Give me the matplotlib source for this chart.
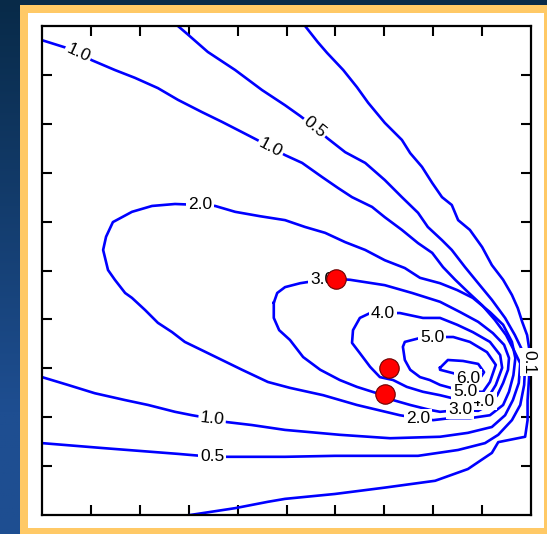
import numpy as np
import matplotlib
matplotlib.use("Agg")
import matplotlib.pyplot as plt
from matplotlib.patches import Rectangle

plt.rcParams['font.family'] = ['Liberation Sans', 'DejaVu Sans']

# Contour polylines (x, y in map units, 0..10 on both axes)
c01 = [(5.38, 10.0), (5.64, 9.67), (5.83, 9.45), (6.16, 9.10), (6.44, 8.75), (6.67, 8.43),
       (7.01, 8.02), (7.36, 7.67), (7.53, 7.40), (7.77, 7.12), (7.98, 6.79), (8.18, 6.50),
       (8.38, 6.34), (8.51, 6.03), (8.75, 5.83), (9.00, 5.48), (9.20, 5.11), (9.43, 4.81),
       (9.61, 4.50), (9.73, 4.23), (9.82, 3.95), (9.92, 3.68), (9.96, 3.42), (9.96, 2.80),
       (9.93, 2.35), (9.93, 1.94), (9.88, 1.60), (9.33, 1.49), (9.20, 1.27), (8.71, 0.94),
       (8.04, 0.70), (7.01, 0.56), (5.99, 0.43), (4.97, 0.33), (4.62, 0.27), (3.95, 0.14),
       (3.03, 0.0)]

c05 = [(2.78, 10.0), (2.99, 9.82), (3.39, 9.47), (3.95, 9.10), (4.50, 8.69), (4.97, 8.38),
       (5.28, 8.16), (5.58, 7.93), (5.83, 7.71), (6.20, 7.42), (6.61, 7.20), (7.01, 6.85),
       (7.36, 6.50), (7.69, 6.18), (7.89, 5.89), (8.18, 5.62), (8.38, 5.42), (8.65, 5.07),
       (8.92, 4.74), (9.20, 4.40), (9.47, 4.03), (9.67, 3.68), (9.82, 3.37), (9.88, 3.07),
       (9.86, 2.66), (9.78, 2.25), (9.61, 1.94), (9.33, 1.64), (9.06, 1.47), (8.51, 1.33),
       (7.69, 1.21), (5.99, 1.21), (4.97, 1.19), (3.78, 1.19), (3.48, 1.19), (2.78, 1.25),
       (1.23, 1.37), (0.0, 1.47)]

c10 = [(0.0, 9.71), (0.51, 9.55), (0.74, 9.45), (1.02, 9.30), (1.49, 9.10), (1.90, 8.94),
       (2.37, 8.73), (2.78, 8.49), (3.27, 8.24), (3.68, 8.04), (4.09, 7.83), (4.40, 7.67),
       (4.68, 7.52), (4.97, 7.36), (5.32, 7.20), (5.73, 6.91), (6.05, 6.69), (6.34, 6.50),
       (6.75, 6.30), (7.01, 6.09), (7.36, 5.83), (7.69, 5.56), (7.98, 5.36), (8.20, 5.07),
       (8.45, 4.81), (8.71, 4.56), (9.00, 4.29), (9.26, 3.99), (9.49, 3.68), (9.65, 3.37),
       (9.78, 3.10), (9.75, 2.70), (9.63, 2.35), (9.47, 2.04), (9.20, 1.80), (8.71, 1.68),
       (8.14, 1.60), (7.12, 1.57), (6.09, 1.64), (4.97, 1.74), (4.29, 1.84), (3.78, 1.90),
       (3.48, 1.97), (3.07, 2.04), (2.72, 2.11), (2.17, 2.25), (1.70, 2.35), (1.08, 2.49),
       (0.53, 2.66), (0.0, 2.82)]

c20 = [(3.23, 6.34), (3.54, 6.32), (3.95, 6.20), (4.46, 6.11), (4.97, 6.03), (5.38, 5.89),
       (5.79, 5.77), (6.20, 5.58), (6.61, 5.42), (7.01, 5.21), (7.42, 5.05), (7.73, 4.85),
       (8.14, 4.74), (8.49, 4.60), (8.81, 4.44), (9.16, 4.15), (9.43, 3.89), (9.61, 3.54),
       (9.68, 3.21), (9.64, 2.86), (9.55, 2.52), (9.43, 2.25), (9.16, 2.04), (8.75, 1.98),
       (8.34, 1.98), (8.00, 1.94), (7.69, 1.98), (7.32, 2.04), (6.44, 2.25), (5.75, 2.45),
       (5.07, 2.60), (4.62, 2.72), (4.09, 2.97), (3.68, 3.17), (3.27, 3.37), (2.92, 3.54),
       (2.66, 3.74), (2.37, 3.93), (2.11, 4.19), (1.84, 4.44), (1.70, 4.54), (1.49, 4.81),
       (1.35, 5.01), (1.25, 5.42), (1.31, 5.69), (1.45, 5.99), (1.84, 6.20), (2.25, 6.32),
       (2.72, 6.36), (3.23, 6.34)]

c30 = [(4.74, 4.34), (4.81, 4.54), (4.97, 4.66), (5.28, 4.74), (5.73, 4.81), (6.01, 4.83),
       (6.30, 4.81), (7.01, 4.70), (7.57, 4.54), (8.14, 4.36), (8.55, 4.15), (8.92, 3.95),
       (9.22, 3.72), (9.45, 3.48), (9.55, 3.21), (9.53, 2.97), (9.43, 2.70), (9.31, 2.45),
       (9.14, 2.25), (8.92, 2.13), (8.55, 2.15), (8.14, 2.11), (7.93, 2.15), (7.53, 2.25),
       (7.18, 2.35), (6.85, 2.49), (6.44, 2.62), (6.09, 2.76), (5.69, 2.97), (5.34, 3.23),
       (5.07, 3.58), (4.85, 3.78), (4.74, 4.03), (4.74, 4.34)]

c40 = [(6.97, 4.13), (7.32, 4.13), (7.79, 4.03), (8.14, 4.03), (8.49, 3.89), (8.81, 3.74),
       (9.16, 3.54), (9.37, 3.27), (9.41, 3.01), (9.28, 2.66), (9.14, 2.43), (8.92, 2.31),
       (8.55, 2.35), (8.14, 2.45), (7.79, 2.52), (7.46, 2.62), (7.18, 2.76), (6.91, 2.82),
       (6.71, 3.03), (6.50, 3.31), (6.34, 3.52), (6.36, 3.78), (6.50, 4.03), (6.71, 4.13),
       (6.97, 4.13)]

c50 = [(7.98, 3.64), (8.41, 3.64), (8.75, 3.54), (9.10, 3.33), (9.28, 3.07), (9.16, 2.72),
       (9.02, 2.52), (8.65, 2.52), (8.14, 2.66), (7.93, 2.76), (7.73, 2.82), (7.53, 2.97),
       (7.42, 3.17), (7.38, 3.44), (7.42, 3.54), (7.73, 3.62), (7.98, 3.64)]

c60 = [(8.14, 3.01), (8.30, 3.17), (8.61, 3.15), (8.92, 3.09), (9.04, 2.92), (8.96, 2.80),
       (8.71, 2.80), (8.41, 2.90), (8.14, 2.97), (8.14, 3.01)]

contours = [c01, c05, c10, c20, c30, c40, c50, c60]

# Contour labels: text, x, y, rotation (deg)
label_text = ["1.0", "1.0", "0.5", "2.0", "3.0", "4.0", "5.0", "6.0",
              "4.0", "5.0", "3.0", "2.0", "1.0", "0.5", "0.1"]
label_x = [0.74, 4.68, 5.58, 3.23, 5.73, 6.97, 7.98, 8.71,
           9.02, 8.65, 8.55, 7.69, 3.48, 3.48, 9.96]
label_y = [9.45, 7.52, 7.93, 6.34, 4.81, 4.13, 3.64, 2.80,
           2.33, 2.52, 2.15, 1.98, 1.97, 1.19, 3.13]
label_rot = [-25, -28, -39, 0, 0, 0, 0, 0,
             0, 0, 0, 0, -6, 0, -90]
label_layer = [3, 3, 3, 3, 3, 3, 3, 3,
               2.5, 3, 3, 3, 3, 3, 3]

# Well locations
well_x = [6.01, 7.10, 7.01]
well_y = [4.83, 3.01, 2.47]

W, H = 547, 534
fig = plt.figure(figsize=(W / 100, H / 100), dpi=100)

# Slide-style backdrop: blue gradient, gold frame, white panel
bg = fig.add_axes([0, 0, 1, 1])
bg.set_axis_off()
t = np.linspace(0, 1, 256)[:, None]
top = np.array([8, 42, 72]) / 255
bot = np.array([30, 78, 145]) / 255
grad = top + (bot - top) * np.clip(t * 1.3, 0, 1)[..., None]
grad = np.repeat(grad, 4, axis=1)
bg.imshow(grad, aspect='auto', extent=[0, 1, 0, 1], origin='upper')
bg.add_patch(Rectangle((20 / W, 0), 1, 1 - 5 / H, transform=fig.transFigure,
                       facecolor='#ffc966', edgecolor='none'))
bg.add_patch(Rectangle((28 / W, 6 / H), (544 - 28) / W, (528 - 13) / H,
                       transform=fig.transFigure, facecolor='white', edgecolor='none'))
bg.set_xlim(0, 1)
bg.set_ylim(0, 1)

ax = fig.add_axes([42 / W, 19 / H, 489 / W, 489 / H])
ax.set_xlim(0, 10)
ax.set_ylim(0, 10)
ax.set_facecolor('white')

for path in contours:
    xs, ys = zip(*path)
    ax.plot(xs, ys, color='#0000ff', lw=1.9, solid_joinstyle='round', zorder=2)

for s, x, y, r, z in zip(label_text, label_x, label_y, label_rot, label_layer):
    ax.text(x, y, s, ha='center', va='center', rotation=r, fontsize=12.5,
            color='black', rotation_mode='anchor', zorder=z,
            bbox=dict(boxstyle='square,pad=0.1', fc='white', ec='none'))

ax.plot(well_x, well_y, 'o', ms=14, mfc='#ff0000', mec='#6b0000', mew=0.8, zorder=5)

ax.set_xticks(np.arange(1, 10))
ax.set_yticks(np.arange(1, 10))
ax.tick_params(direction='in', length=7.5, width=1.5, top=True, right=True,
               labelbottom=False, labelleft=False, color='black')
for sp in ax.spines.values():
    sp.set_linewidth(1.6)
    sp.set_color('black')

fig.savefig('out.png', dpi=100)
